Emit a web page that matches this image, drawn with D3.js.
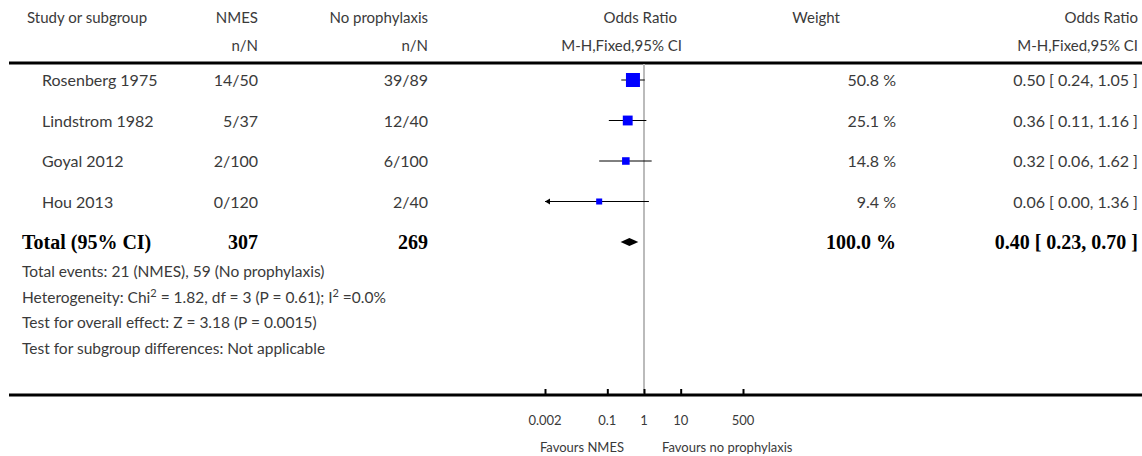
<!DOCTYPE html>
<html>
<head>
<meta charset="utf-8">
<script src="https://cdn.jsdelivr.net/npm/d3@7"></script>
<style>
  body { margin: 0; background: #fff; }
  text { font-family: Lato, "Open Sans", sans-serif; fill: #3a3a3a; }
  .bold { font-family: "Liberation Serif", "DejaVu Serif", serif; font-weight: bold; fill: #000; }
</style>
</head>
<body>
<svg width="1142" height="456"></svg>
<script>
// study rows
const studies = ['Rosenberg 1975', 'Lindstrom 1982', 'Goyal 2012', 'Hou 2013'];
const nmes = ['14/50', '5/37', '2/100', '0/120'];
const noProph = ['39/89', '12/40', '6/100', '2/40'];
const oddsRatio = [0.50, 0.36, 0.32, 0.06];
const ciLow = [0.24, 0.11, 0.06, 0.00];
const ciHigh = [1.05, 1.16, 1.62, 1.36];
const weight = [50.8, 25.1, 14.8, 9.4];

// pooled row
const totalLabels = ['Total (95% CI)', '307', '269'];
const totalOr = [0.40, 0.23, 0.70];
const totalWeight = 100.0;

const tickValues = [0.002, 0.1, 1, 10, 500];
const favours = ['Favours NMES', 'Favours no prophylaxis'];
const footnotes = [
  'Total events: 21 (NMES), 59 (No prophylaxis)',
  'HET',
  'Test for overall effect: Z = 3.18 (P = 0.0015)',
  'Test for subgroup differences: Not applicable'
];

const svg = d3.select('svg');
const width = +svg.attr('width');

const fmt = d3.format('.2f');

const xScale = d3.scaleLog()
  .domain([0.002, 500])
  .range([545, 743]);

const yScale = d3.scaleLinear()
  .domain([0, 4])
  .range([80, 242]);

const sizeScale = d3.scaleSqrt()
  .domain([0, d3.max(weight)])
  .range([0, 14]);

// columns (x anchor positions)
const col = { study: 42, nmes: 258, noProph: 428, weight: 896, orText: 1138 };

// header
const head = svg.append('g').style('font-size', '15px');
head.append('text').attr('x', 27).attr('y', 23).text('Study or subgroup');
head.append('text').attr('x', col.nmes).attr('y', 23).attr('text-anchor', 'end').text('NMES');
head.append('text').attr('x', col.nmes).attr('y', 51).attr('text-anchor', 'end').text('n/N');
head.append('text').attr('x', col.noProph).attr('y', 23).attr('text-anchor', 'end').text('No prophylaxis');
head.append('text').attr('x', col.noProph).attr('y', 51).attr('text-anchor', 'end').text('n/N');
head.append('text').attr('x', 677).attr('y', 23).attr('text-anchor', 'end').text('Odds Ratio');
head.append('text').attr('x', 682).attr('y', 51).attr('text-anchor', 'end').text('M-H,Fixed,95% CI');
head.append('text').attr('x', 840).attr('y', 23).attr('text-anchor', 'end').text('Weight');
head.append('text').attr('x', col.orText).attr('y', 23).attr('text-anchor', 'end').text('Odds Ratio');
head.append('text').attr('x', col.orText).attr('y', 51).attr('text-anchor', 'end').text('M-H,Fixed,95% CI');

svg.append('line')
  .attr('x1', 9).attr('x2', width)
  .attr('y1', 63).attr('y2', 63)
  .attr('stroke', '#000').attr('stroke-width', 3);

// reference line at OR = 1
svg.append('line')
  .attr('x1', xScale(1)).attr('x2', xScale(1))
  .attr('y1', 64).attr('y2', 393)
  .attr('stroke', '#bbb').attr('stroke-width', 2);

// study rows text
const rows = svg.append('g').style('font-size', '16px');
studies.forEach((s, i) => {
  const y = yScale(i) + 6;
  rows.append('text').attr('x', col.study).attr('y', y).text(s);
  rows.append('text').attr('x', col.nmes).attr('y', y).attr('text-anchor', 'end').text(nmes[i]);
  rows.append('text').attr('x', col.noProph).attr('y', y).attr('text-anchor', 'end').text(noProph[i]);
  rows.append('text').attr('x', col.weight).attr('y', y).attr('text-anchor', 'end').text(weight[i].toFixed(1) + ' %');
  rows.append('text').attr('x', col.orText).attr('y', y).attr('text-anchor', 'end')
    .text(`${fmt(oddsRatio[i])} [ ${fmt(ciLow[i])}, ${fmt(ciHigh[i])} ]`);
});

// CI lines + squares
const minX = xScale.domain()[0];
const plot = svg.append('g');
studies.forEach((s, i) => {
  const y = yScale(i);
  const lo = Math.max(ciLow[i], minX);
  plot.append('line')
    .attr('x1', xScale(lo)).attr('x2', xScale(ciHigh[i]))
    .attr('y1', y).attr('y2', y)
    .attr('stroke', '#000').attr('stroke-width', 1);
  if (ciLow[i] < minX) {
    const ax = xScale(minX);
    plot.append('path')
      .attr('d', `M${ax},${y} l5,-3 l0,6 z`)
      .attr('fill', '#000');
  }
  const sz = Math.max(sizeScale(weight[i]), 6);
  plot.append('rect')
    .attr('x', xScale(oddsRatio[i]) - sz / 2)
    .attr('y', y - sz / 2)
    .attr('width', sz).attr('height', sz)
    .attr('fill', '#0000ff');
});

// total row
const ty = yScale(4);
const tot = svg.append('g').style('font-size', '20px');
tot.append('text').attr('class', 'bold').attr('x', 22).attr('y', ty + 7).text(totalLabels[0]);
tot.append('text').attr('class', 'bold').attr('x', col.nmes).attr('y', ty + 7).attr('text-anchor', 'end').text(totalLabels[1]);
tot.append('text').attr('class', 'bold').attr('x', col.noProph).attr('y', ty + 7).attr('text-anchor', 'end').text(totalLabels[2]);
tot.append('text').attr('class', 'bold').attr('x', col.weight).attr('y', ty + 7).attr('text-anchor', 'end').text(totalWeight.toFixed(1) + ' %');
tot.append('text').attr('class', 'bold').attr('x', col.orText).attr('y', ty + 7).attr('text-anchor', 'end')
  .text(`${fmt(totalOr[0])} [ ${fmt(totalOr[1])}, ${fmt(totalOr[2])} ]`);

svg.append('path')
  .attr('d', `M${xScale(totalOr[1])},${ty} L${xScale(totalOr[0])},${ty - 4} L${xScale(totalOr[2])},${ty} L${xScale(totalOr[0])},${ty + 4} Z`)
  .attr('fill', '#000');

// footnotes
const foot = svg.append('g').style('font-size', '15.5px');
footnotes.forEach((f, i) => {
  const t = foot.append('text').attr('x', 22).attr('y', 277 + i * 25.7);
  if (f === 'HET') {
    t.append('tspan').text('Heterogeneity: Chi');
    t.append('tspan').attr('baseline-shift', 'super').style('font-size', '11px').text('2');
    t.append('tspan').text(' = 1.82, df = 3 (P = 0.61); I');
    t.append('tspan').attr('baseline-shift', 'super').style('font-size', '11px').text('2');
    t.append('tspan').text(' =0.0%');
  } else {
    t.text(f);
  }
});

// axis
svg.append('line')
  .attr('x1', 9).attr('x2', width)
  .attr('y1', 395).attr('y2', 395)
  .attr('stroke', '#000').attr('stroke-width', 3);

const axis = d3.axisTop(xScale)
  .tickValues(tickValues)
  .tickSize(5)
  .tickFormat('');
const ax = svg.append('g').attr('transform', 'translate(0,394)').call(axis);
ax.select('.domain').remove();
ax.selectAll('.tick line').attr('stroke', '#000').attr('stroke-width', 2);

const tl = svg.append('g').style('font-size', '13px');
tickValues.forEach(v => {
  tl.append('text').attr('x', xScale(v)).attr('y', 425).attr('text-anchor', 'middle').text(v);
});
tl.append('text').attr('x', xScale(1) - 20).attr('y', 452).attr('text-anchor', 'end').text(favours[0]);
tl.append('text').attr('x', xScale(1) + 18).attr('y', 452).text(favours[1]);
</script>
</body>
</html>
